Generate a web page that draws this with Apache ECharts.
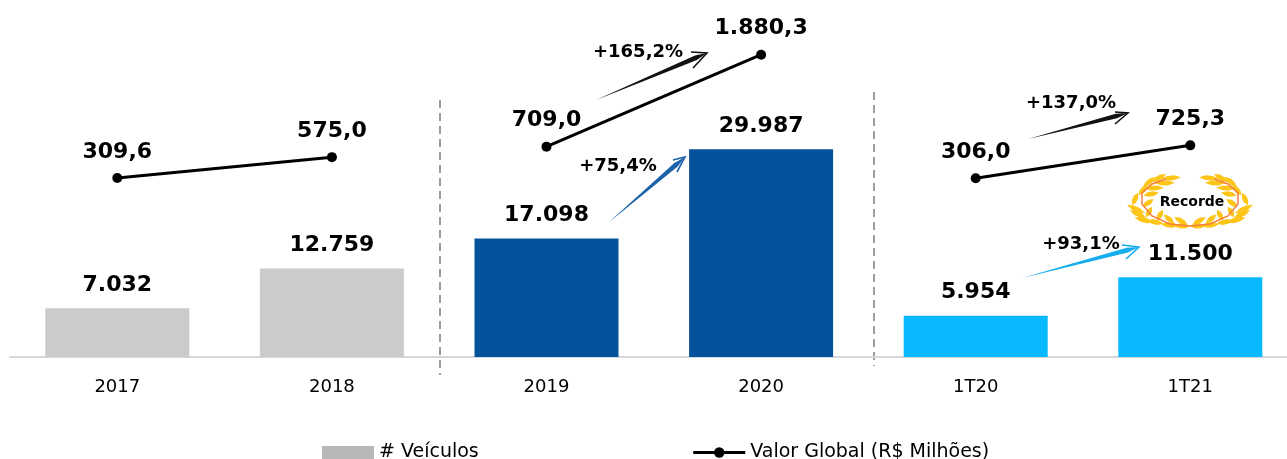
<!DOCTYPE html>
<html>
<head>
<meta charset="utf-8">
<style>html,body{margin:0;padding:0;background:#fff}#c{width:1287px;height:459px}</style>
<script src="https://cdn.jsdelivr.net/npm/echarts@6/dist/echarts.min.js"></script>
</head>
<body>
<div id="c"></div>
<script>
const categories = ['2017','2018','2019','2020','1T20','1T21'];
const veiculos = [7032,12759,17098,29987,5954,11500];
const barColors = ['#cbcbcb','#cbcbcb','#04529b','#04529b','#08b9ff','#08b9ff'];
const valorAnual = [309.6,575.0,null,null,null,null];
const valorBienio = [null,null,709.0,1880.3,null,null];
const valorTrimestre = [null,null,null,null,306.0,725.3];
const FONT = '"DejaVu Sans",sans-serif';

const fmt = (v,d)=>{
  const [i,f] = v.toFixed(d).split('.');
  return i.replace(/\B(?=(\d{3})+$)/g,'.') + (f ? ',' + f : '');
};

// annotations: [tailX, tailY, tipX, tipY, wing1X, wing1Y, wing2X, wing2Y, colour, text, textX, textY]
const arrows = [
  [596,100,707,53,691,52,693,68,'#111111','+165,2%',638,52],
  [608,223,685,157,673,160,677,172,'#1c62a8','+75,4%',618,166],
  [1028,139,1128,113,1115,112,1115,124,'#111111','+137,0%',1071,103],
  [1022,278,1139,247,1122,245,1126,259,'#14aeee','+93,1%',1081,244]
];
const dividers = [[440,100,440,375],[874,92,874,366]];
// left half of the wreath, in px relative to its bottom centre; [dx, dy, angle deg, half-length]
const leaves = [
 [-19,-48,5,10],[-31,-48,30,8],[-25,-43,2,10],[-41,-44,40,8],[-36,-38,2,10],[-47,-36,50,7],[-39,-32,10,8],
 [-55,-27,65,7],[-42,-23,35,7],[-54,-17,-25,10],[-52,-12,-25,9],[-41,-14,60,6],[-30,-11,60,6],
 [-46,-6,-15,10],[-35,-4,-10,9],[-21,-7,-40,7],[-9,-5,-30,8],[-20,-1,-5,9],[-8,0,-2,8]
];
const branch = [[0,0],[-20,-2],[-38,-10],[-48,-22],[-48,-33],[-38,-42],[-24,-47]];

const graphics = [];
dividers.forEach(d=>graphics.push({type:'line',silent:true,shape:{x1:d[0],y1:d[1],x2:d[2],y2:d[3]},
  style:{stroke:'#7f7f7f',lineWidth:1.5,lineDash:[8,5]}}));
arrows.forEach(a=>{
  const [tx,ty,hx,hy,w1x,w1y,w2x,w2y,col,txt,lx,ly]=a;
  const dx=hx-tx,dy=hy-ty,l=Math.hypot(dx,dy),nx=-dy/l,ny=dx/l,hw=2.4;
  const nearX=hx-dx/l*12,nearY=hy-dy/l*12;
  graphics.push({type:'polygon',silent:true,shape:{points:[[tx,ty],[nearX+nx*hw,nearY+ny*hw],[hx,hy],[nearX-nx*hw,nearY-ny*hw]]},style:{fill:col}});
  graphics.push({type:'polyline',silent:true,shape:{points:[[w1x,w1y],[hx,hy],[w2x,w2y]]},style:{stroke:col,lineWidth:1.6,fill:null}});
  graphics.push({type:'text',silent:true,x:lx,y:ly,style:{text:txt,font:'bold 18px '+FONT,fill:'#000',align:'center',verticalAlign:'middle'}});
});
const WX=1190,WY=226;
[1,-1].forEach(s=>{
  leaves.forEach(p=>{
    const L=p[3],w=2.4;
    graphics.push({type:'polygon',silent:true,x:WX+s*p[0],y:WY+p[1],rotation:s*p[2]*Math.PI/180,
      shape:{points:[[-L,0],[-L/3,-w],[L/3,-w],[L,0],[L/3,w],[-L/3,w]]},style:{fill:'#fdc518'}});
  });
  graphics.push({type:'polyline',silent:true,shape:{points:branch.map(p=>[WX+s*p[0],WY+p[1]])},style:{stroke:'#f47f3c',lineWidth:1.5,fill:null}});
});
graphics.push({type:'text',silent:true,x:1192,y:202,style:{text:'Recorde',font:'bold 14px '+FONT,fill:'#000',align:'center',verticalAlign:'middle'}});

const lineSeries = d=>({
  name:'Valor Global (R$ Milhões)',type:'line',yAxisIndex:1,data:d,z:5,
  symbol:'circle',symbolSize:10,
  lineStyle:{color:'#000',width:3},itemStyle:{color:'#000'},
  label:{show:true,position:'top',distance:10,color:'#000',fontFamily:FONT,fontWeight:'bold',fontSize:22,
    formatter:p=>fmt(p.value,1)}
});

const chart = echarts.init(document.getElementById('c'),null,{renderer:'canvas'});
chart.setOption({
  animation:false,
  backgroundColor:'#fff',
  grid:{left:10,top:0,right:-10.6,height:357,outerBoundsMode:'none'},
  legend:{left:317,top:438,itemGap:213,itemWidth:52,itemHeight:13,selectedMode:false,
    textStyle:{fontFamily:FONT,fontSize:19,color:'#000'},
    lineStyle:{width:3},
    data:[{name:'# Veículos',icon:'rect'},{name:'Valor Global (R$ Milhões)'}]},
  xAxis:{type:'category',data:categories,
    axisLine:{lineStyle:{color:'#d4d8dc',width:2}},axisTick:{show:false},
    axisLabel:{color:'#000',fontFamily:FONT,fontSize:18,margin:21}},
  yAxis:[
    {type:'value',min:0,max:51500,show:false,splitLine:{show:false}},
    {type:'value',min:-1971,max:2577,show:false,splitLine:{show:false}}
  ],
  series:[
    {name:'# Veículos',type:'bar',barWidth:144,itemStyle:{color:'#b7b7b7'},
     data:veiculos.map((v,i)=>({value:v,itemStyle:{color:barColors[i]}})),
     label:{show:true,position:'top',distance:12,color:'#000',fontFamily:FONT,fontWeight:'bold',fontSize:22,
       formatter:p=>fmt(p.value,0)}},
    lineSeries(valorAnual),lineSeries(valorBienio),lineSeries(valorTrimestre)
  ],
  graphic:graphics
});
</script>
</body>
</html>
